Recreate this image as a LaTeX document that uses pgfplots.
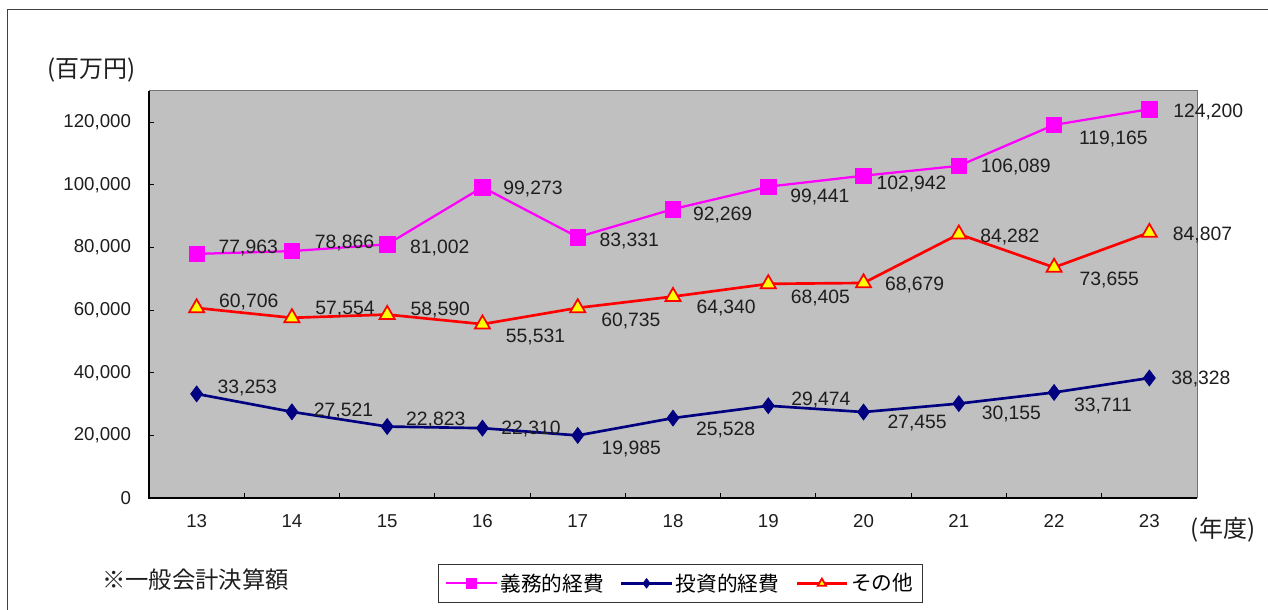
\documentclass[border=0pt]{standalone}
\usepackage{pgfplots}
\pgfplotsset{compat=1.18}
\usepackage{fontspec}
\setmainfont{Liberation Sans}
\newfontfamily\jp{Noto Sans CJK JP}
\definecolor{bg}{RGB}{192,192,192}
\definecolor{pinkc}{RGB}{255,0,255}
\definecolor{navyc}{RGB}{0,0,128}
\definecolor{redc}{RGB}{255,0,0}
\definecolor{yelc}{RGB}{255,255,0}
\definecolor{labc}{RGB}{30,30,30}

% label: #1 = x offset (px), #2 = y offset (px, up), #3 = text
\protected\def\PL#1#2#3{\rlap{\kern\dimexpr #1pt*3/4\relax\raisebox{\dimexpr #2pt*3/4-5.2pt\relax}[0pt][0pt]{#3}}}

\pgfplotsset{lbl/.style={
  forget plot,
  point meta=explicit symbolic,
  nodes near coords={\pgfplotspointmeta},
  every node near coord/.append style={anchor=base west, inner sep=0pt, text=labc,
     font=\fontsize{14.5}{16}\selectfont}},
  pinkst/.style={color=pinkc, line width=1.7pt, mark=square*,
     mark options={solid, fill=pinkc, draw=pinkc, line width=0.5pt}},
  bluest/.style={color=navyc, line width=2pt, mark=diamond*,
     mark options={solid, fill=navyc, draw=navyc, line width=0.5pt}},
  redst/.style={color=redc, line width=2pt, mark=triangle*,
     mark options={solid, fill=yelc, draw=redc, line width=1.3pt}},
}

\begin{document}
\begin{tikzpicture}[x=1pt,y=1pt]
\path[use as bounding box] (0,0) rectangle (951,457.5);
\draw[line width=0.75pt, black!75] (5.25,0) -- (5.25,450) -- (951,450);
\begin{axis}[
  at={(111.75pt,84pt)}, anchor=south west,
  scale only axis, width=786pt, height=305.25pt,
  xmin=-0.5, xmax=10.5, ymin=0, ymax=130000,
  clip=false,
  axis background/.style={fill=bg},
  axis line style={draw=black!55, line width=0.75pt},
  xtick pos=bottom, ytick pos=left,
  xtick={0,1,2,3,4,5,6,7,8,9,10},
  xticklabels={13,14,15,16,17,18,19,20,21,22,23},
  minor xtick={0.5,1.5,2.5,3.5,4.5,5.5,6.5,7.5,8.5,9.5},
  major x tick style={draw=none},
  minor x tick style={draw=black, line width=0.75pt},
  ytick={0,20000,40000,60000,80000,100000,120000},
  yticklabels={0,{20,000},{40,000},{60,000},{80,000},{100,000},{120,000}},
  ytick style={draw=black, line width=0.75pt},
  tick align=inside,
  major tick length=4pt, minor tick length=4pt,
  scaled y ticks=false,
  tick label style={font=\fontsize{14}{16}\selectfont, text=labc},
  xticklabel style={yshift=-9pt},
  yticklabel style={xshift=-10pt},
  legend columns=3,
  legend style={at={(0.2758,-0.1622)}, anchor=north west, draw=black!80, fill=white,
     font=\jp\fontsize{15.5}{18}\selectfont, inner xsep=5pt, inner ysep=5pt,
     /tikz/every even column/.append style={column sep=10pt}},
  legend image code/.code={\draw[mark repeat=2,mark phase=2,#1,mark size=3.6pt]
     plot coordinates {(0pt,0pt) (19pt,0pt) (38pt,0pt)};},
]
\draw[black, line width=0.9pt] (rel axis cs:0,1) -- (rel axis cs:0,0) -- (rel axis cs:1,0);
\addlegendimage{pinkst}
\addlegendentry{義務的経費}
\addlegendimage{bluest}
\addlegendentry{投資的経費}
\addlegendimage{redst}
\addlegendentry{その他}
\addplot[pinkst, lbl, mark size=5.8pt] coordinates {
 (0,77963) [\PL{21}{7}{77,963}]
 (1,78866) [\PL{22}{10}{78,866}]
 (2,81002) [\PL{22}{-2}{81,002}]
 (3,99273) [\PL{20}{0}{99,273}]
 (4,83331) [\PL{21}{-2}{83,331}]
 (5,92269) [\PL{19}{-4}{92,269}]
 (6,99441) [\PL{21}{-9}{99,441}]
 (7,102942) [\PL{12}{-7}{102,942}]
 (8,106089) [\PL{21}{0}{106,089}]
 (9,119165) [\PL{24}{-13}{119,165}]
 (10,124200) [\PL{23}{-1}{124,200}]
};
\addplot[bluest, lbl, mark size=6pt] coordinates {
 (0,33253) [\PL{20}{7}{33,253}]
 (1,27521) [\PL{21}{2}{27,521}]
 (2,22823) [\PL{18}{8}{22,823}]
 (3,22310) [\PL{18}{1}{22,310}]
 (4,19985) [\PL{23}{-12}{19,985}]
 (5,25528) [\PL{22}{-10}{25,528}]
 (6,29474) [\PL{22}{7}{29,474}]
 (7,27455) [\PL{23}{-10}{27,455}]
 (8,30155) [\PL{22}{-9}{30,155}]
 (9,33711) [\PL{19}{-12}{33,711}]
 (10,38328) [\PL{21}{0}{38,328}]
};
\addplot[redst, lbl, mark size=6.5pt] coordinates {
 (0,60706) [\PL{21}{7}{60,706}]
 (1,57554) [\PL{22}{10}{57,554}]
 (2,58590) [\PL{22}{6}{58,590}]
 (3,55531) [\PL{22}{-11}{55,531}]
 (4,60735) [\PL{22}{-12}{60,735}]
 (5,64340) [\PL{22}{-10}{64,340}]
 (6,68405) [\PL{21}{-13}{68,405}]
 (7,68679) [\PL{20}{-1}{68,679}]
 (8,84282) [\PL{20}{-1}{84,282}]
 (9,73655) [\PL{24}{-11}{73,655}]
 (10,84807) [\PL{22}{-1}{84,807}]
};
\end{axis}
\node[anchor=west, inner sep=0pt, text=labc] at (35.25,405) {\jp\fontsize{18}{20}\selectfont (百万円)};
\node[anchor=west, inner sep=0pt, text=labc] at (893,60) {\jp\fontsize{18}{20}\selectfont (年度)};
\node[anchor=west, inner sep=0pt, text=labc] at (76.5,22.5) {\jp\fontsize{17.5}{20}\selectfont ※一般会計決算額};
\end{tikzpicture}
\end{document}
